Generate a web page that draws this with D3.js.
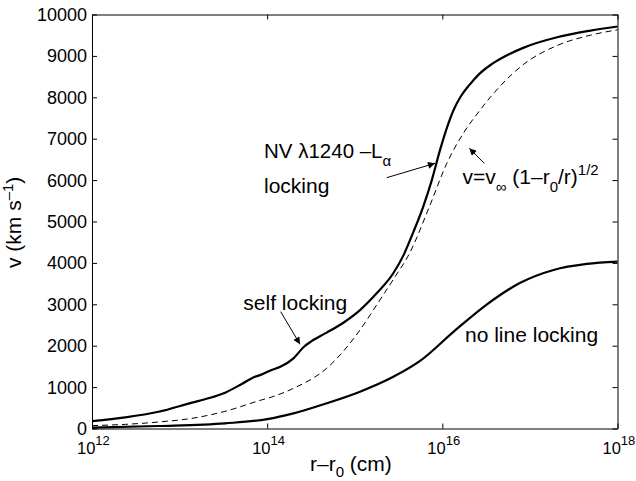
<!DOCTYPE html>
<html><head><meta charset="utf-8">
<script src="https://cdn.jsdelivr.net/npm/d3@7"></script>
<style>body{margin:0;background:#fff}svg{display:block}text{font-family:"Liberation Sans",Arial,Helvetica,sans-serif;fill:#000}</style>
</head><body>
<script>
// log10 of (r - r0) in cm, and v in km/s
const nvLogR = [12.0,12.38,12.76,13.14,13.33,13.52,13.71,13.86,13.92,14.05,14.15,14.30,14.42,14.50,14.68,14.87,15.06,15.25,15.44,15.56,15.67,15.78,15.88,15.97,16.05,16.13,16.21,16.31,16.42,16.55,16.69,16.93,17.31,17.69,18.0];
const nvV    = [180,270,405,625,730,865,1075,1250,1290,1413,1490,1695,1975,2100,2315,2555,2860,3265,3750,4200,4750,5350,6000,6700,7250,7700,8020,8300,8560,8780,8960,9200,9450,9610,9710];
const fitLogR = [12.0,12.38,12.76,13.14,13.52,13.92,14.05,14.30,14.68,15.06,15.25,15.44,15.63,15.86,16.05,16.24,16.43,16.66,16.93,17.31,17.69,18.0];
const fitV    = [70,100,157,245,415,680,760,970,1455,2380,2985,3600,4250,5400,6400,7130,7690,8270,8800,9250,9500,9630];
const noLogR = [12.0,12.76,13.52,14.0,14.3,14.68,15.06,15.44,15.75,16.13,16.51,16.89,17.27,17.65,18.0];
const noV    = [20,60,125,225,365,610,890,1250,1640,2340,3000,3520,3830,3975,4030];
const xTickExp = [12,14,16,18];
const yTicks = [0,1000,2000,3000,4000,5000,6000,7000,8000,9000,10000];

const W=636,H=481;
const svg=d3.select("body").append("svg").attr("width",W).attr("height",H);
const x=d3.scaleLog().domain([1e12,1e18]).range([92,617.5]);
const y=d3.scaleLinear().domain([0,10000]).range([428.5,14.5]);
const defs=svg.append("defs");
defs.append("marker").attr("id","ah").attr("viewBox","0 0 10 10").attr("refX",10).attr("refY",5)
  .attr("markerWidth",9).attr("markerHeight",7).attr("markerUnits","userSpaceOnUse").attr("orient","auto")
  .append("path").attr("d","M0,0L10,5L0,10z").attr("fill","#000");

const line=d3.line().x(d=>x(Math.pow(10,d[0]))).y(d=>y(d[1])).curve(d3.curveMonotoneX);
const z=(a,b)=>a.map((v,i)=>[v,b[i]]);
svg.append("path").attr("d",line(z(fitLogR,fitV))).attr("fill","none").attr("stroke","#000").attr("stroke-width",1).attr("stroke-dasharray","6,4");
svg.append("path").attr("d",line(z(nvLogR,nvV))).attr("fill","none").attr("stroke","#000").attr("stroke-width",2.2);
svg.append("path").attr("d",line(z(noLogR,noV))).attr("fill","none").attr("stroke","#000").attr("stroke-width",2.2);

// axes
const tickVals=xTickExp.map(e=>Math.pow(10,e));
svg.append("g").attr("transform","translate(0,428.5)").call(d3.axisBottom(x).tickValues(tickVals).tickSizeInner(-5).tickSizeOuter(0).tickFormat(""));
svg.append("g").attr("transform","translate(0,14.5)").call(d3.axisTop(x).tickValues(tickVals).tickSizeInner(-5).tickSizeOuter(0).tickFormat(""));
svg.append("g").attr("transform","translate(92,0)").call(d3.axisLeft(y).tickValues(yTicks).tickSizeInner(-5).tickSizeOuter(0).tickFormat(""));
svg.append("g").attr("transform","translate(617.5,0)").call(d3.axisRight(y).tickValues(yTicks).tickSizeInner(-5).tickSizeOuter(0).tickFormat(""));
svg.selectAll(".domain,.tick line").attr("stroke","#000").attr("stroke-width",1);

// y tick labels
svg.append("g").selectAll("text").data(yTicks).join("text")
  .attr("x",87).attr("y",d=>y(d)).attr("dy","0.36em").attr("text-anchor","end").attr("font-size",18).text(d=>d);
// x tick labels
const xl=svg.append("g").selectAll("text").data(xTickExp).join("text")
  .attr("x",d=>x(Math.pow(10,d))-15).attr("y",453.5).attr("font-size",16.5);
xl.append("tspan").text("10");
xl.append("tspan").attr("dy",-9).attr("font-size",13).text(d=>d);

// axis titles
const xt=svg.append("text").attr("x",310).attr("y",471).attr("font-size",21);
xt.append("tspan").text("r\u2013r");
xt.append("tspan").attr("dy",6).attr("font-size",15).text("0");
xt.append("tspan").attr("dy",-6).text(" (cm)");
const yt=svg.append("text").attr("transform","translate(21,268) rotate(-90)").attr("font-size",21);
yt.append("tspan").text("v (km s");
yt.append("tspan").attr("dy",-8).attr("font-size",15).text("\u20131");
yt.append("tspan").attr("dy",8).text(")");

// annotations
const a1=svg.append("text").attr("x",264).attr("y",157.5).attr("font-size",20.5);
a1.append("tspan").text("NV \u03bb1240 \u2013L");
a1.append("tspan").attr("dy",8).attr("font-size",15).text("\u03b1");
svg.append("text").attr("x",264).attr("y",192.5).attr("font-size",21).text("locking");
svg.append("line").attr("x1",386.7).attr("y1",177.7).attr("x2",435).attr("y2",163.3).attr("stroke","#000").attr("stroke-width",1).attr("marker-end","url(#ah)");

const a2=svg.append("text").attr("x",462.5).attr("y",183.5).attr("font-size",21);
a2.append("tspan").text("v=v");
a2.append("tspan").attr("dy",8).attr("font-size",15).text("\u221e");
a2.append("tspan").attr("dy",-8).text(" (1\u2013r");
a2.append("tspan").attr("dy",8).attr("font-size",15).text("0");
a2.append("tspan").attr("dy",-8).text("/r)");
a2.append("tspan").attr("dy",-9).attr("font-size",15).text("1/2");
svg.append("line").attr("x1",484.3).attr("y1",163.3).attr("x2",469.3).attr("y2",148.3).attr("stroke","#000").attr("stroke-width",1).attr("marker-end","url(#ah)");

svg.append("text").attr("x",243.3).attr("y",310).attr("font-size",21).text("self locking");
svg.append("line").attr("x1",280.7).attr("y1",311.7).attr("x2",300).attr("y2",344.3).attr("stroke","#000").attr("stroke-width",1).attr("marker-end","url(#ah)");

svg.append("text").attr("x",465).attr("y",341.5).attr("font-size",21).text("no line locking");
</script>
</body></html>
